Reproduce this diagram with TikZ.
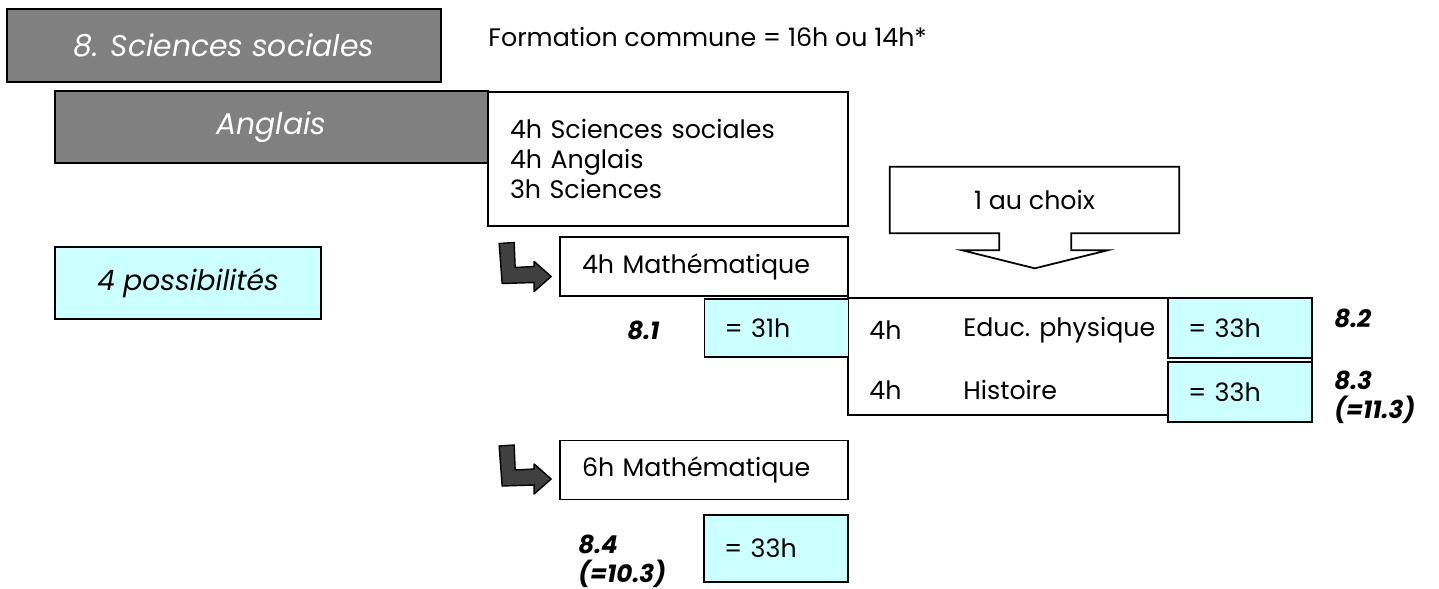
\documentclass[tikz,border=0pt]{standalone}
\usepackage{fontspec}
\setmainfont{Poppins}
\usetikzlibrary{positioning}

\begin{document}
\begin{tikzpicture}[
    x=0.02cm, y=-0.02cm,
    font=\fontsize{14.4}{17}\selectfont,
    greybox/.style={rectangle, draw=black, line width=1.3pt, fill=cGrey, text=white, font=\fontsize{17}{20}\selectfont\itshape},
    whitebox/.style={rectangle, draw=black, line width=1pt, fill=white, align=left, inner xsep=0.44cm},
    sumbox/.style={rectangle, draw=black, line width=1pt, fill=cCyan, align=left, inner xsep=0.4cm, text width=2.08cm},
    optlabel/.style={anchor=west, align=left, inner sep=0pt, font=\fontsize{14}{16.5}\selectfont\bfseries\itshape},
    celltext/.style={anchor=west, inner sep=0pt},
    bentarrow/.pic={
        \draw[fill=cArrow, line width=0.8pt, line join=round] (-52,-33) -- (-37,-34) -- (-36,-9) -- (-17,-10) -- (-17,-15) -- (0,0) -- (-17,15) -- (-17,6) -- (-49,7) -- cycle;
    },
]

\definecolor{cGrey}{HTML}{808080}
\definecolor{cCyan}{HTML}{CCFFFF}
\definecolor{cArrow}{HTML}{404040}

\useasboundingbox[fill=white] (0,0) rectangle (1439,588);

% titre et formation commune
\node[greybox, minimum width=8.68cm, minimum height=1.46cm] (title) at (224,45.5) {8. Sciences sociales};
\node[greybox, minimum width=8.66cm, minimum height=1.44cm] (anglais) at (271.5,127) {Anglais};
\node[anchor=west, inner sep=0pt] (commune) at (488,37) {Formation commune = 16h ou 14h*};
\node[whitebox, text width=6.32cm, minimum height=2.68cm] (base) at (668,159) {4h Sciences sociales\\4h Anglais\\3h Sciences};

\node[rectangle, draw=black, line width=1pt, fill=cCyan, minimum width=5.32cm, minimum height=1.44cm, font=\fontsize{16}{19}\selectfont\itshape] (poss) at (188,283) {4 possibilités};

% 1 au choix
\node[minimum width=5.78cm, minimum height=1.32cm] (choix) at (1034.5,200) {1 au choix};
\draw[line width=1pt, line join=miter] (choix.north west) -- (choix.north east) -- (choix.south east) -- ++(-108,0) -- ++(0,17) -- ++(36,0) -- ++(-72.5,18) -- ++(-72.5,-18) -- ++(37,0) -- ++(0,-17) -- (choix.south west) -- cycle;

% 4h Mathematique
\node[whitebox, text width=4.88cm, minimum height=1.18cm] (math1) at (704,266.5) {4h Mathématique};
\pic at ([shift={(-8,10)}]math1.west) {bentarrow};

\node[rectangle, draw=black, line width=1pt, minimum width=9.28cm, minimum height=2.34cm] (table) at (1080,356.5) {};
\node[celltext] (h1) at (869,330) {4h};
\node[celltext] (educ) at (963,330) {Educ. physique};
\node[celltext] (h2) at (869,390) {4h};
\node[celltext] (hist) at (963,390) {Histoire};

\node[sumbox, minimum height=1.16cm] (sum1) at (776.5,328) {= 31h};
\node[sumbox, minimum height=1.2cm] (sum2) at (1240,328) {= 33h};
\node[sumbox, minimum height=1.2cm] (sum3) at (1240,392) {= 33h};

\node[optlabel] (opt1) at (627,330) {8.1};
\node[optlabel] (opt2) at (1334,318) {8.2};
\node[optlabel] (opt3) at (1334,397.5) {8.3\\(=11.3)};

% 6h Mathematique
\node[whitebox, text width=4.88cm, minimum height=1.18cm] (math2) at (704,470) {6h Mathématique};
\pic at ([shift={(-8,9)}]math2.west) {bentarrow};

\node[sumbox, minimum height=1.34cm] (sum4) at (776,548.5) {= 33h};
\node[optlabel] (opt4) at (578,561) {8.4\\(=10.3)};

\end{tikzpicture}
\end{document}
